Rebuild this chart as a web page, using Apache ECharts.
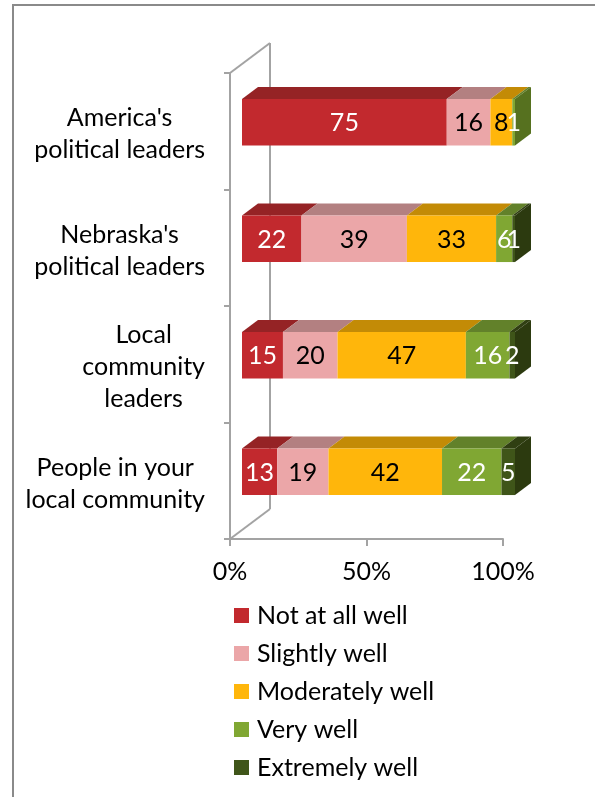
<!DOCTYPE html>
<html>
<head>
<meta charset="utf-8">
<script src="https://cdn.jsdelivr.net/npm/echarts@6/dist/echarts.min.js"></script>
<style>
  html, body { margin: 0; padding: 0; background: #fff; }
  #chart { width: 595px; height: 797px; }
</style>
</head>
<body>
<div id="chart"></div>
<script>
// Response categories (top to bottom)
const categories = [
  "America's\npolitical leaders",
  "Nebraska's\npolitical leaders",
  "Local\ncommunity\nleaders",
  "People in your\nlocal community"
];
const seriesNames = ['Not at all well', 'Slightly well', 'Moderately well', 'Very well', 'Extremely well'];

// Percent of respondents per category
const notAtAllWell   = [75, 22, 15, 13];
const slightlyWell   = [16, 39, 20, 19];
const moderatelyWell = [8, 33, 47, 42];
const veryWell       = [1, 6, 16, 22];
const extremelyWell  = [0, 1, 2, 5];

const xTickValues = [0, 50, 100];

const seriesValues = [notAtAllWell, slightlyWell, moderatelyWell, veryWell, extremelyWell];

// Face colours: front, top (darker) and end cap (darkest)
const frontColors = ['#C2292E', '#EBA6A8', '#FFB60B', '#80A733', '#3F5519'];
const topColors   = ['#952325', '#B38081', '#C38B06', '#62812A', '#303F12'];
const sideColors  = ['#7E1B1E', '#9A6E6F', '#A87703', '#56711F', '#2C3A0F'];
const labelColors = ['#fff', '#000', '#000', '#fff', '#fff'];

const FONT = 'Lato';
const FONT_SIZE = 25;
const AXIS_COLOR = '#A3A3A3';

// Depth of the 3D box (pixels) and where the bars sit inside it
const DEPTH_X = 40, DEPTH_Y = -30;
const BAR_FRONT = 0.3, BAR_BACK = 0.7;

const totals = categories.map((_, c) => seriesValues.reduce((s, arr) => s + arr[c], 0));

function buildRows(s) {
  return categories.map((_, c) => {
    let start = 0;
    for (let k = 0; k < s; k++) start += seriesValues[k][c];
    let lastNonZero = 0;
    seriesValues.forEach((arr, k) => { if (arr[c] > 0) lastNonZero = k; });
    return [c, start, seriesValues[s][c], totals[c], lastNonZero === s ? 1 : 0];
  });
}

function renderSegment(s) {
  return function (params, api) {
    const cat = api.value(0), start = api.value(1), val = api.value(2), total = api.value(3), isLast = api.value(4);
    if (!(val > 0)) return;
    const p0 = api.coord([start / total * 100, cat]);
    const p1 = api.coord([(start + val) / total * 100, cat]);
    const band = api.size([0, 1])[1];
    const h = band * 0.4;
    const fx = DEPTH_X * BAR_FRONT, fy = DEPTH_Y * BAR_FRONT;
    const tx = DEPTH_X * (BAR_BACK - BAR_FRONT), ty = DEPTH_Y * (BAR_BACK - BAR_FRONT);
    const x0 = p0[0] + fx, x1 = p1[0] + fx;
    const yc = p0[1] + fy, top = yc - h / 2, bot = yc + h / 2;
    const children = [
      { type: 'polygon', shape: { points: [[x0, top], [x1, top], [x1 + tx, top + ty], [x0 + tx, top + ty]] },
        style: { fill: topColors[s] } },
      { type: 'rect', shape: { x: x0, y: top, width: x1 - x0, height: h },
        style: { fill: frontColors[s] } }
    ];
    if (isLast) {
      children.push({ type: 'polygon',
        shape: { points: [[x1, top], [x1 + tx, top + ty], [x1 + tx, bot + ty], [x1, bot]] },
        style: { fill: sideColors[s] } });
    }
    children.push({ type: 'text', z2: 10,
      style: { text: String(val), x: (x0 + x1) / 2, y: yc + 1, align: 'center', verticalAlign: 'middle',
        fill: labelColors[s], font: FONT_SIZE + 'px ' + FONT } });
    return { type: 'group', children: children };
  };
}

// Back wall and the two receding edges of the box
function renderWall(params, api) {
  const cs = params.coordSys;
  const lineStyle = { stroke: AXIS_COLOR, lineWidth: 2, fill: null };
  return {
    type: 'group',
    children: [
      { type: 'line', shape: { x1: cs.x + DEPTH_X, y1: cs.y + DEPTH_Y, x2: cs.x + DEPTH_X, y2: cs.y + cs.height + DEPTH_Y }, style: lineStyle },
      { type: 'line', shape: { x1: cs.x, y1: cs.y, x2: cs.x + DEPTH_X, y2: cs.y + DEPTH_Y }, style: lineStyle },
      { type: 'line', shape: { x1: cs.x, y1: cs.y + cs.height, x2: cs.x + DEPTH_X, y2: cs.y + cs.height + DEPTH_Y }, style: lineStyle }
    ]
  };
}

const series = [{
  type: 'custom', name: 'wall', silent: true, z: 1,
  renderItem: renderWall, data: [[0, 0]], encode: { x: 0, y: 1 }
}];
seriesNames.forEach((name, s) => {
  series.push({
    type: 'custom', name: name, z: 2 + s,
    itemStyle: { color: frontColors[s] },
    renderItem: renderSegment(s),
    encode: { x: [1, 2], y: 0 },
    data: buildRows(s)
  });
});

const chart = echarts.init(document.getElementById('chart'), null, { renderer: 'canvas' });
chart.setOption({
  backgroundColor: '#fff',
  animation: false,
  textStyle: { fontFamily: FONT },
  graphic: [{
    type: 'polyline', silent: true,
    shape: { points: [[13, 797], [13, 5], [595, 5]] },
    style: { stroke: '#8A8A8A', lineWidth: 2, fill: null }
  }],
  grid: { left: 230, top: 73, width: 273, height: 466 },
  xAxis: {
    type: 'value', min: 0, max: 100, interval: 50,
    axisLine: { show: true, lineStyle: { color: AXIS_COLOR, width: 2 } },
    axisTick: { show: true, length: 7, lineStyle: { color: AXIS_COLOR, width: 2 } },
    splitLine: { show: false },
    axisLabel: {
      margin: 20, color: '#000', fontFamily: FONT, fontSize: FONT_SIZE,
      formatter: v => xTickValues.indexOf(v) >= 0 ? v + '%' : ''
    }
  },
  yAxis: {
    type: 'category', inverse: true, data: categories,
    axisLine: { show: true, lineStyle: { color: AXIS_COLOR, width: 2 } },
    axisTick: { show: true, length: 6, lineStyle: { color: AXIS_COLOR, width: 2 } },
    axisLabel: {
      margin: 25, align: 'right', color: '#000', padding: [6, 0, 0, 0],
      formatter: v => v.split('\n').map(l => '{c|' + l + '}').join('\n'),
      rich: { c: { align: 'center', fontFamily: FONT, fontSize: FONT_SIZE, lineHeight: 32, color: '#000' } }
    }
  },
  legend: {
    data: seriesNames, orient: 'vertical', left: 229, top: 598,
    icon: 'rect', itemWidth: 15, itemHeight: 15, itemGap: 13,
    textStyle: { fontFamily: FONT, fontSize: FONT_SIZE, color: '#000', padding: [0, 0, 0, 3] }
  },
  series: series
});
</script>
</body>
</html>
